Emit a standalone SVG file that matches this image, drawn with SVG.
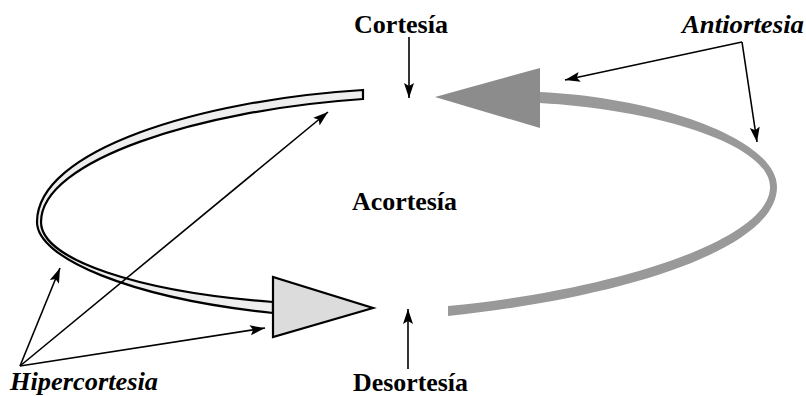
<svg xmlns="http://www.w3.org/2000/svg" width="806" height="396" viewBox="0 0 806 396">
<style>
.lbl{font-family:"Liberation Serif","Times New Roman",serif;font-weight:bold;font-size:26px;fill:#000}
.it{font-style:italic}
.con{stroke:#000;stroke-width:1.6;fill:none;marker-end:url(#ah)}
.light{fill:#eeeeee;stroke:#000;stroke-width:2.2;stroke-linejoin:miter}
.lhead{fill:#dcdcdc;stroke:#000;stroke-width:2.2;stroke-linejoin:miter}
.gray{fill:#999999;stroke:none}
.ghead{fill:#8c8c8c;stroke:none}
</style>
<defs>
<marker id="ah" markerUnits="userSpaceOnUse" markerWidth="16" markerHeight="12" refX="15" refY="5" orient="auto">
<path d="M0,0 L15,5 L0,10 L3,5 z" fill="#000"/>
</marker>
</defs>
<rect width="806" height="396" fill="#fff"/>
<g id="hipercortesia-loop">
<path class="light" d="M363,90 C200,100 37,150 37,222 C37,258 130,298 273,313 L273,302 C140,292 41,260 41,222 C41,160 200,110 363,99 Z"/>
<polygon class="lhead" points="273,277 273,337 373,308"/>
</g>
<g id="antiortesia-loop">
<path class="gray" d="M540,92 C662,98 777,140 777,187 C777,250 620,298 448,316 L448,306 C615,290 770,240 770,187 C770,145 660,110 540,103 Z"/>
<polygon class="ghead" points="540,68 540,128 435,97"/>
</g>
<g id="cortesia"><text class="lbl" x="354" y="33" textLength="94" lengthAdjust="spacingAndGlyphs">Cortesía</text></g>
<g id="acortesia"><text class="lbl" x="352" y="210" textLength="105" lengthAdjust="spacingAndGlyphs">Acortesía</text></g>
<g id="desortesia"><text class="lbl" x="353" y="391" textLength="115" lengthAdjust="spacingAndGlyphs">Desortesía</text></g>
<g id="antiortesia"><text class="lbl it" x="682" y="33" textLength="122" lengthAdjust="spacingAndGlyphs">Antiortesia</text></g>
<g id="hipercortesia"><text class="lbl it" x="10" y="390" textLength="148" lengthAdjust="spacingAndGlyphs">Hipercortesia</text></g>
<g id="connectors">
<path class="con" d="M409,37 L409,98"/>
<path class="con" d="M408,369 L408,309"/>
<path class="con" d="M742,42 L565,80"/>
<path class="con" d="M742,42 L757,142"/>
<path class="con" d="M20,366 L60,268"/>
<path class="con" d="M20,366 L328,112"/>
<path class="con" d="M20,366 L265,328"/>
</g>
</svg>
